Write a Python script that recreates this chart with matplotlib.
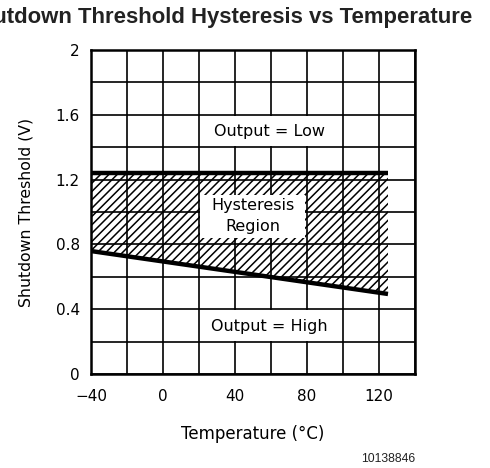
import matplotlib.pyplot as plt
from matplotlib.patches import Rectangle
import numpy as np

# temperature (degC) and threshold (V)
temp = [-40, 125]
v_high = [1.243, 1.243]
v_low = [0.759, 0.494]

xticks = [-40, 0, 40, 80, 120]
xlabels = ['\u221240', '0', '40', '80', '120']
yticks = [0, 0.4, 0.8, 1.2, 1.6, 2]
ylabels = ['0', '0.4', '0.8', '1.2', '1.6', '2']

plt.rcParams['font.family'] = ['DejaVu Sans']
plt.rcParams['hatch.linewidth'] = 1.1

fig = plt.figure(figsize=(4.9, 4.68), dpi=100)
ax = fig.add_axes([91/490, 1-374/468, 324/490, 324/468])

ax.set_xlim(-40, 140)
ax.set_ylim(0, 2)
ax.set_xticks(xticks)
ax.set_yticks(yticks)
ax.set_xticklabels(xlabels)
ax.set_yticklabels(ylabels)
ax.set_xticks(np.arange(-40, 141, 20), minor=True)
ax.set_yticks(np.arange(0, 2.01, 0.2), minor=True)
ax.grid(which='both', color='black', linewidth=1.2)
ax.tick_params(which='both', length=0, labelsize=11)
ax.tick_params(axis='x', pad=11)
ax.tick_params(axis='y', pad=8)
for s in ax.spines.values():
    s.set_linewidth(1.8)
    s.set_zorder(6)

ax.fill_between(temp, v_low, v_high, facecolor='white', edgecolor='black',
                hatch='////', linewidth=0, zorder=1)
ax.plot(temp, v_high, color='black', lw=3.2, zorder=4, solid_capstyle='butt')
ax.plot(temp, v_low, color='black', lw=3.2, zorder=4, solid_capstyle='butt')

# white label backgrounds (x0, y0, w, h in data units)
for x0, y0, w, h in [(20.5, 0.84, 58.5, 0.265), (20.5, 1.405, 79, 0.19), (20.5, 0.205, 79, 0.19)]:
    ax.add_patch(Rectangle((x0, y0), w, h, facecolor='white', edgecolor='none', zorder=3))

ax.text(50, 0.975, 'Hysteresis\nRegion', ha='center', va='center', fontsize=11.5,
        linespacing=1.45, zorder=5)
ax.text(59, 1.494, 'Output = Low', ha='center', va='center', fontsize=11.5, zorder=5)
ax.text(59, 0.296, 'Output = High', ha='center', va='center', fontsize=11.5, zorder=5)

ax.set_xlabel('Temperature (°C)', fontsize=12, labelpad=15)
ax.set_ylabel('Shutdown Threshold (V)', fontsize=11.3, labelpad=16)

# title is clipped at the left edge in the reference as well
fig.text(219/490, 1-17/468, 'Shutdown Threshold Hysteresis vs Temperature',
         ha='center', va='center', fontsize=15.9, fontweight='bold',
         family='Liberation Sans', color='#222222')
fig.text(415/490, 1-459/468, '10138846', ha='right', va='center', fontsize=8.8,
         family='Liberation Sans', color='#222222')

fig.savefig('out.png', dpi=100)
